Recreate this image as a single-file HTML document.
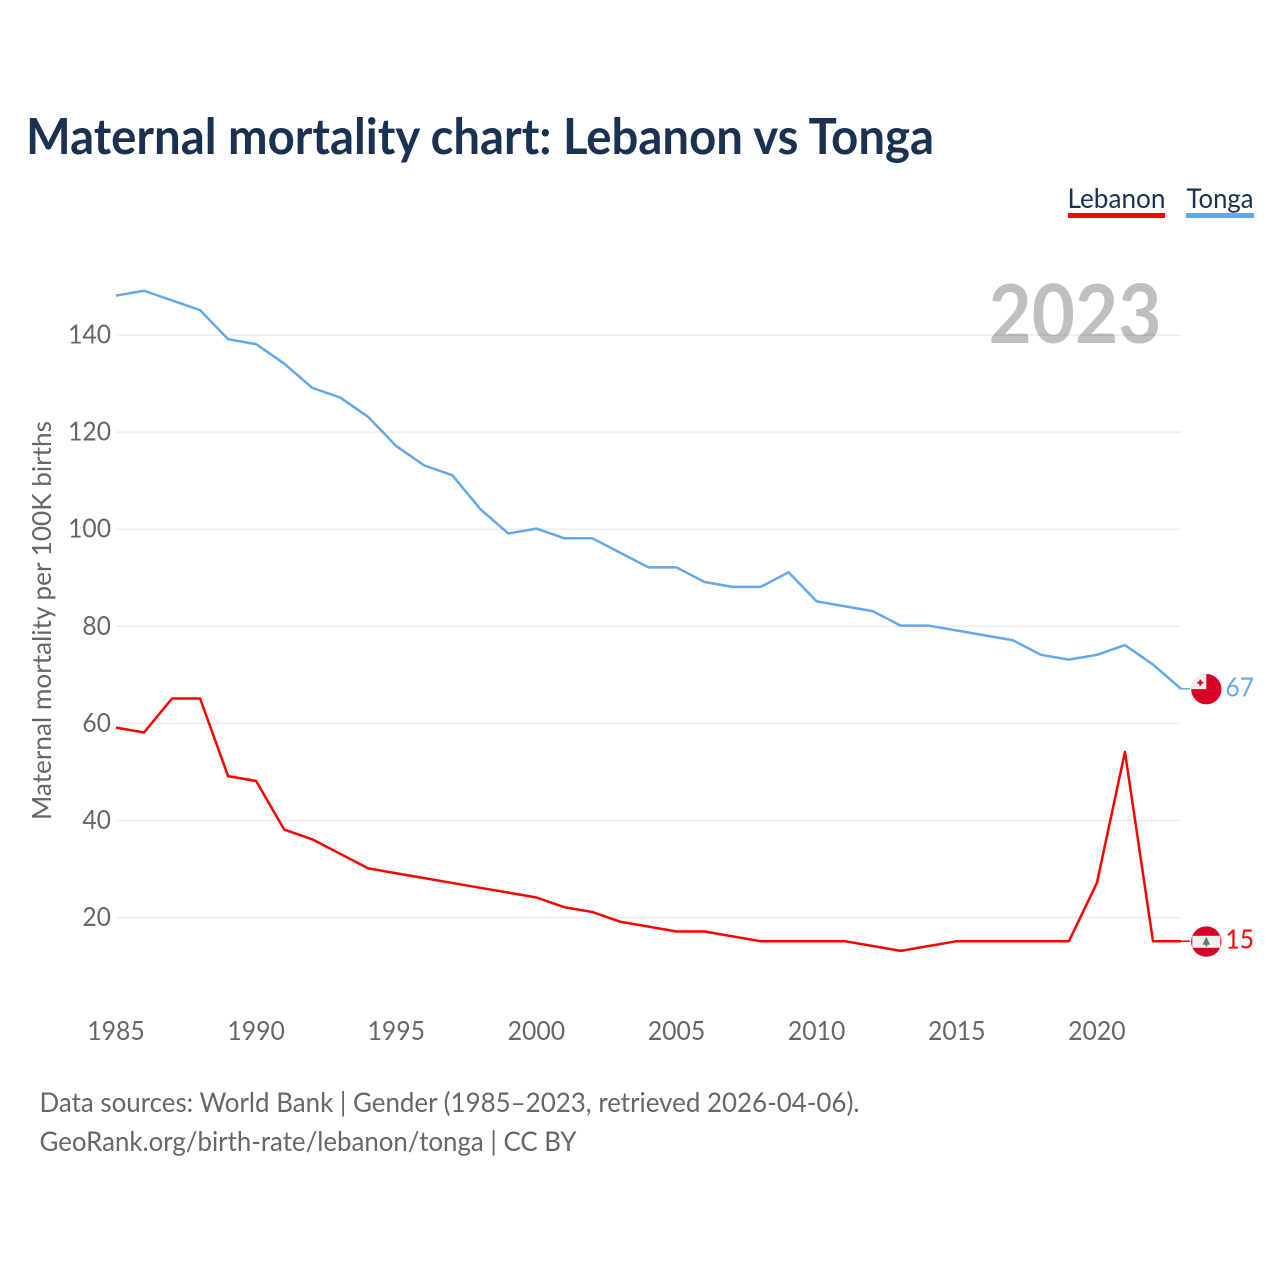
<!DOCTYPE html>
<html lang="en">
<head>
<meta charset="utf-8">
<title>Maternal mortality chart: Lebanon vs Tonga</title>
<style>
html,body{margin:0;padding:0;background:#fff;}
svg{display:block;font-family:"Lato","Carlito","Liberation Sans",sans-serif;}
</style>
</head>
<body>
<svg id="chart" xmlns="http://www.w3.org/2000/svg" width="1280" height="1280" viewBox="0 0 1280 1280">
  <text x="26" y="154" font-size="50" font-weight="700" fill="#1a3152" textLength="908" lengthAdjust="spacingAndGlyphs">Maternal mortality chart: Lebanon vs Tonga</text>

  <g>
    <text x="1067.5" y="208" font-size="27" fill="#1a3152" textLength="98" lengthAdjust="spacingAndGlyphs">Lebanon</text>
    <rect x="1068" y="213" width="97" height="5" fill="#ff0000"/>
  </g>
  <g>
    <text x="1186.5" y="208" font-size="27" fill="#1a3152" textLength="67" lengthAdjust="spacingAndGlyphs">Tonga</text>
    <rect x="1186" y="213" width="68" height="5" fill="#63a8ec"/>
  </g>

  <g id="grid"></g>
  <g id="yticks"></g>
  <g id="xticks"></g>

  <text transform="translate(51,620.5) rotate(-90)" text-anchor="middle" font-size="26" fill="#666666" textLength="399" lengthAdjust="spacingAndGlyphs">Maternal mortality per 100K births</text>

  <text x="988.5" y="343" font-size="81" font-weight="700" fill="#000000" fill-opacity="0.25" textLength="173" lengthAdjust="spacingAndGlyphs">2023</text>

  <g id="series"></g>
  <g id="ends"></g>

  <text x="39.5" y="1112" font-size="27" fill="#666666" textLength="820" lengthAdjust="spacingAndGlyphs">Data sources: World Bank | Gender (1985–2023, retrieved 2026-04-06).</text>
  <text x="39.5" y="1151" font-size="27" fill="#666666" textLength="537" lengthAdjust="spacingAndGlyphs">GeoRank.org/birth-rate/lebanon/tonga | CC BY</text>
</svg>
<script>
const years = [1985,1986,1987,1988,1989,1990,1991,1992,1993,1994,1995,1996,1997,1998,1999,2000,2001,2002,2003,2004,2005,2006,2007,2008,2009,2010,2011,2012,2013,2014,2015,2016,2017,2018,2019,2020,2021,2022,2023];
const tongaValues = [148,149,147,145,139,138,134,129,127,123,117,113,111,104,99,100,98,98,95,92,92,89,88,88,91,85,84,83,80,80,79,78,77,74,73,74,76,72,67];
const lebanonValues = [59,58,65,65,49,48,38,36,33,30,29,28,27,26,25,24,22,21,19,18,17,17,16,15,15,15,15,14,13,14,15,15,15,15,15,27,54,15,15];
const yTickValues = [20,40,60,80,100,120,140];
const xTickValues = [1985,1990,1995,2000,2005,2010,2015,2020];

const NS = 'http://www.w3.org/2000/svg';
function xScale(year){ return 116 + (year - 1985) * (1181 - 116) / 38; }
function yScale(v){ return 1014.6 - v * 4.854; }
function lineY(v){ return yScale(v) - 0.6; }
function mk(tag, attrs, parent){
  const el = document.createElementNS(NS, tag);
  for (const k in attrs) el.setAttribute(k, attrs[k]);
  parent.appendChild(el);
  return el;
}

const grid = document.getElementById('grid');
const yticks = document.getElementById('yticks');
const xticks = document.getElementById('xticks');
const seriesG = document.getElementById('series');
const ends = document.getElementById('ends');

yTickValues.forEach(function(v){
  const line = mk('line', {x1:116, x2:1181, y1:yScale(v), y2:yScale(v), stroke:'#ececec', 'stroke-width':1.5}, grid);
  
  
  const t = mk('text', {x:111, y:yScale(v)+8.5, 'text-anchor':'end', 'font-size':26, fill:'#666666', textLength:String(v).length*14.3, lengthAdjust:'spacingAndGlyphs'}, yticks);
  t.textContent = v;
  
  
});

xTickValues.forEach(function(y){
  const t = mk('text', {x:xScale(y), y:1040, 'text-anchor':'middle', 'font-size':26, fill:'#666666', textLength:57.5, lengthAdjust:'spacingAndGlyphs'}, xticks);
  t.textContent = y;
  
  
});

function pathFor(vals){
  const pts = vals.map(function(v,i){ return (i ? 'L' : 'M') + xScale(years[i]).toFixed(2) + ' ' + lineY(v).toFixed(2); });
  return pts.join(' ');
}

const tongaLine = mk('path', {d:pathFor(tongaValues), fill:'none', stroke:'#63a8ec', 'stroke-width':2.5, 'stroke-linejoin':'round'}, seriesG);


const lebanonLine = mk('path', {d:pathFor(lebanonValues), fill:'none', stroke:'#ff0000', 'stroke-width':2.5, 'stroke-linejoin':'round'}, seriesG);



/* Tonga end marker */
const tongaLast = tongaValues[tongaValues.length-1];
const ty = lineY(tongaLast);
const tongaStub = mk('line', {x1:1181, x2:1190, y1:ty, y2:ty, stroke:'#63a8ec', 'stroke-width':1.5}, ends);


const tg = mk('g', {transform:'translate(1206.3,' + (ty+0.4).toFixed(2) + ')'}, ends);


mk('circle', {cx:0, cy:0, r:15.2, fill:'#d80027'}, tg);
mk('path', {d:'M0 0 H-15.2 A15.2 15.2 0 0 1 0 -15.2 Z', fill:'#f0f0f0'}, tg);
mk('rect', {x:-9, y:-7.5, width:6, height:2, fill:'#d80027'}, tg);
mk('rect', {x:-7, y:-9.5, width:2, height:6, fill:'#d80027'}, tg);
const tv = mk('text', {x:1225.5, y:ty+7.5, 'font-size':26.5, fill:'#63a8ec', textLength:28.5, lengthAdjust:'spacingAndGlyphs'}, ends);
tv.textContent = tongaLast;



/* Lebanon end marker */
const lebLast = lebanonValues[lebanonValues.length-1];
const ly = lineY(lebLast);
const lebStub = mk('line', {x1:1181, x2:1190, y1:ly, y2:ly, stroke:'#ff0000', 'stroke-width':1.5}, ends);


const lg = mk('g', {transform:'translate(1206.3,' + (ly+0.4).toFixed(2) + ')'}, ends);


mk('circle', {cx:0, cy:0, r:15.2, fill:'#d80027'}, lg);
mk('rect', {x:-14, y:-5.8, width:28, height:12, fill:'#f0f0f0'}, lg);
mk('path', {d:'M0 -5 L3.8 3 H1 V4.8 H-1 V3 H-3.8 Z', fill:'#607a7c'}, lg);
const lv = mk('text', {x:1225.5, y:ly+7.5, 'font-size':26.5, fill:'#ff0000', textLength:28.5, lengthAdjust:'spacingAndGlyphs'}, ends);
lv.textContent = lebLast;


</script>
</body>
</html>
